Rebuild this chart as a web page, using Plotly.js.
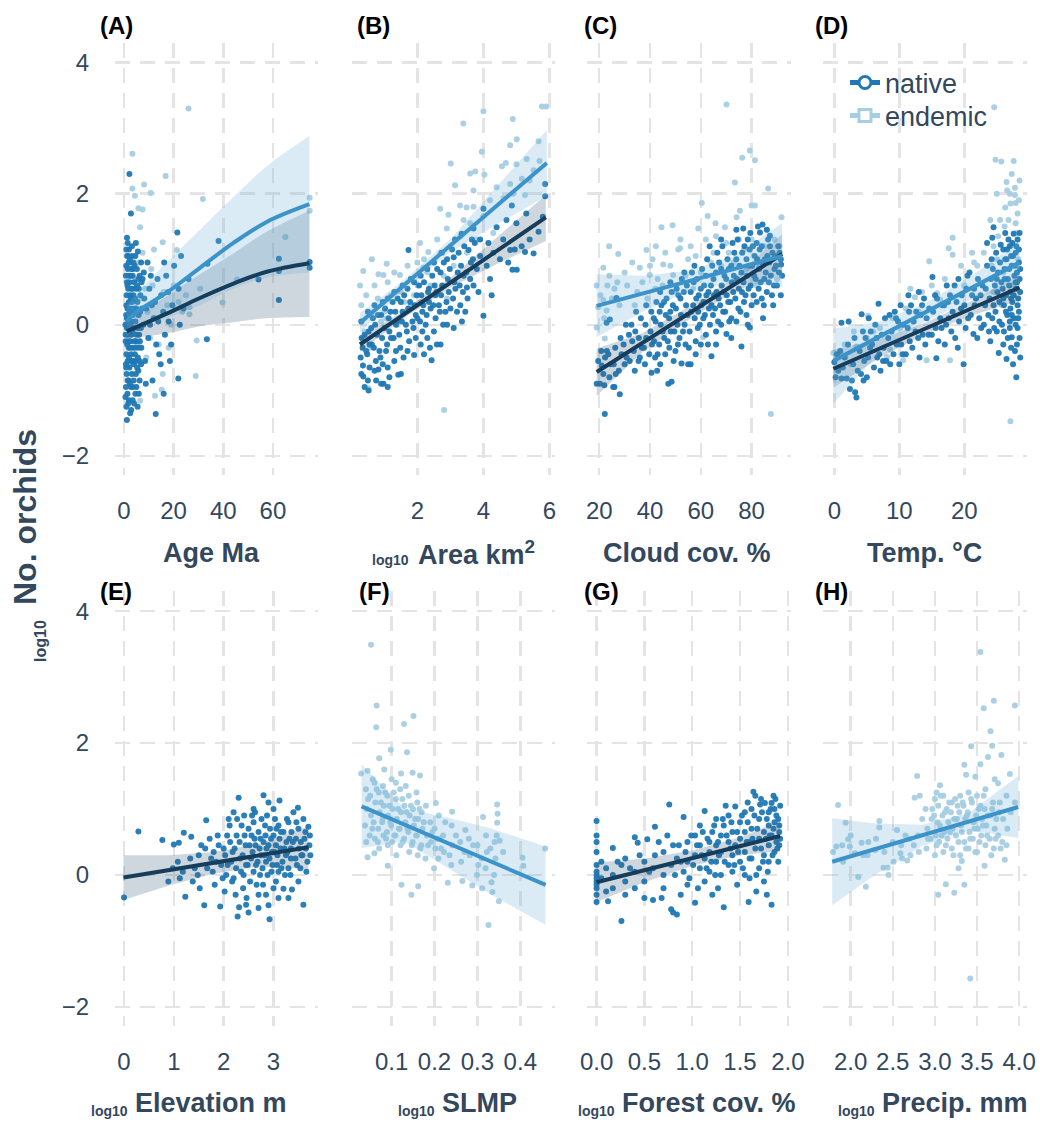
<!DOCTYPE html>
<html><head><meta charset="utf-8">
<script src="https://cdn.plot.ly/plotly-3.0.1.min.js"></script>
<style>html,body{margin:0;padding:0;background:#fff}#chart{width:1040px;height:1122px}</style>
</head><body><div id="chart"></div>
<script>
// ---------------- DATA ----------------
const panelLetters = ['(A)','(B)','(C)','(D)','(E)','(F)','(G)','(H)'];
const xTickVals = [[0,20,40,60],[2,4,6],[20,40,60,80],[0,10,20],[0,1,2,3],[0.1,0.2,0.3,0.4],[0,0.5,1,1.5,2],[2,2.5,3,3.5,4]];
const xTickText = [['0','20','40','60'],['2','4','6'],['20','40','60','80'],['0','10','20'],['0','1','2','3'],['0.1','0.2','0.3','0.4'],['0.0','0.5','1.0','1.5','2.0'],['2.0','2.5','3.0','3.5','4.0']];
const yTickVals = [-2,0,2,4];
const yTickText = ['\u22122','0','2','4'];
const xRanges = [[-3.6,78.3],[0.01,6.17],[15.3,95.4],[-1.8,29.6],[-0.18,3.9],[0.007,0.481],[-0.097,2.03],[1.667,4.09]];
const yRange = [-2.29,4.3];
const seriesNames = ['native','endemic'];

// (A) Age Ma
const A_nat = [[1.2,-1.45],[2.5,-1.35],[12.8,-1.36],[1.0,-1.25],[5.5,-1.25],[2.0,-1.15],[3.5,-1.15],[1.4,-1.05],[4.6,-1.05],[6.0,-1.05],[16.0,-1.05],[0.8,-0.95],[2.8,-0.95],[5.0,-0.95],[1.8,-0.85],[3.9,-0.85],[6.3,-0.85],[11.5,-0.85],[1.1,-0.75],[3.2,-0.75],[4.8,-0.75],[21.9,-0.82],[2.2,-0.65],[5.3,-0.65],[0.9,-0.65],[1.5,-0.55],[3.7,-0.55],[6.2,-0.55],[8.5,-0.55],[18.5,-0.55],[1.0,-0.45],[2.9,-0.45],[4.4,-0.45],[14.2,-0.45],[1.9,-0.35],[3.4,-0.35],[5.7,-0.35],[7.0,-0.35],[0.7,-0.25],[2.6,-0.25],[4.2,-0.25],[6.4,-0.25],[13.0,-0.3],[1.6,-0.15],[3.0,-0.15],[5.1,-0.15],[16.5,-0.15],[33.4,-0.22],[1.2,-0.05],[2.3,-0.05],[3.9,-0.05],[6.8,-0.05],[10.5,0.0],[1.8,0.05],[3.1,0.05],[4.6,0.05],[18.0,0.05],[22.5,0.0],[0.9,0.15],[2.6,0.15],[3.6,0.15],[5.9,0.15],[12.0,0.1],[1.4,0.25],[2.9,0.25],[4.3,0.25],[7.3,0.25],[9.0,0.25],[15.8,0.2],[2.0,0.35],[3.3,0.35],[5.4,0.35],[12.5,0.35],[19.5,0.3],[1.1,0.45],[2.5,0.45],[3.8,0.45],[6.6,0.45],[15.0,0.45],[1.7,0.55],[2.9,0.55],[4.9,0.55],[10.2,0.55],[22.0,0.55],[1.2,0.65],[2.2,0.65],[4.1,0.65],[7.1,0.65],[26.0,0.7],[0.8,0.75],[2.6,0.75],[3.5,0.75],[6.3,0.75],[13.5,0.7],[17.0,0.75],[1.5,0.85],[3.0,0.85],[5.2,0.85],[8.0,0.8],[62.4,0.82],[1.9,0.95],[3.8,0.95],[6.9,0.95],[9.5,0.95],[20.2,0.9],[33.6,0.93],[74.8,0.96],[1.3,1.05],[3.3,1.05],[23.0,1.05],[62.4,1.01],[1.0,1.15],[2.0,1.15],[5.6,1.12],[1.5,1.25],[4.8,1.25],[38.1,1.28],[1.2,1.33],[21.5,1.41],[2.2,2.3],[2.8,1.7],[54.2,0.69],[62.4,0.38],[74.8,0.87],
[0.6,-1.1],[1.7,-1.2],[2.9,-1.3],[4.1,-1.2],[0.8,-0.6],[2.4,-0.9],[3.6,-0.95],[5.8,-0.7],[1.3,-0.3],[2.0,-0.5],[4.7,-0.55],[6.9,-0.6],[0.6,0.0],[1.5,-0.85],[2.7,0.0],[4.0,-0.6],[5.5,-0.05],[7.8,0.0],[1.0,0.3],[2.2,0.2],[3.5,0.55],[4.5,0.4],[6.0,0.55],[8.2,0.4],[0.9,0.9],[2.4,1.0],[3.2,1.2],[4.3,0.9],[5.8,0.7],[7.5,0.7],[1.4,0.6],[2.8,0.4],[3.9,0.2],[5.0,0.25],[6.5,0.2],[0.7,-0.15],[1.8,-0.25],[3.0,-0.55],[4.4,-0.35],[5.6,-0.5],[1.2,0.1],[2.3,-0.35],[3.4,-0.1],[4.9,-0.25],[6.1,-0.15],[2.1,0.75],[3.6,0.85],[4.6,1.05],[1.7,1.05],[5.3,0.6],[9.8,-0.2],[11.2,0.3],[13.8,0.05],[14.8,-0.6],[10.8,0.75],[8.8,-0.9],[17.8,0.5],[19.0,-0.3],[24.0,0.25],[16.2,0.95]];
const A_end = [[26,3.3],[3.4,2.61],[16.8,2.27],[8.1,2.14],[3.4,2.08],[4.4,1.97],[10.8,2.01],[31.8,1.92],[5.8,1.78],[7.5,1.76],[6.5,1.49],[12.1,1.15],[15.6,1.26],[65,1.34],[74.8,1.94],[74.8,1.74],[45.5,0.69],[39.7,0.34],[30.7,0.55],[29.3,-0.24],[28.9,-0.78],[15.6,-0.75],[15.2,-0.99],[12.5,-1.08],[6.5,-1.16],[21.3,1.14],[26.4,0.27],[26.4,0.16],[2.5,0.9],[4.5,0.7],[6.0,0.95],[7.0,0.4],[8.5,0.55],[9.5,0.2],[10.5,-0.2],[11.5,0.6],[13,0.1],[14,-0.3],[16,0.5],[17.5,0.3],[19,0.0],[20,0.6],[22,0.35],[23.5,0.2],[9,-0.5],[5.5,-0.3],[3.0,0.2],[2,-0.6],[18,-0.35],[25,0.45],[7.5,1.1],[11,0.85]];
const A_nat_fit = {x:[1.1,17.2,30.6,44.1,57.5,74.7], y:[-0.10,0.17,0.41,0.63,0.81,0.94], up:[0.03,0.44,0.77,1.09,1.42,1.74], lo:[-0.21,-0.13,-0.02,0.04,0.10,0.12]};
const A_end_fit = {x:[1.1,4.4,17.2,30.6,44.1,57.5,74.7], y:[0.05,0.18,0.49,0.87,1.25,1.57,1.84], up:[0.3,0.45,0.95,1.45,1.95,2.42,2.88], lo:[-0.2,-0.05,0.1,0.3,0.55,0.72,0.8]};

// (B) log10 Area km2
const B_nat = [[0.3,-0.75],[0.28,-0.5],[0.31,-0.2],[0.3,0.05],[0.34,-0.35],[0.5,-0.85],[0.48,-0.45],[0.52,-0.1],[0.5,0.2],[0.55,-0.3],[0.7,-0.7],[0.68,-0.35],[0.72,0.0],[0.7,0.3],[0.74,-0.55],[0.9,-0.9],[0.88,-0.5],[0.93,-0.2],[0.9,0.15],[0.95,0.35],[1.1,-0.65],[1.08,-0.3],[1.13,0.1],[1.1,0.4],[1.15,-0.1],[1.3,-0.55],[1.28,-0.2],[1.33,0.2],[1.3,0.5],[1.35,0.0],[1.5,-0.75],[1.48,-0.35],[1.53,0.05],[1.5,0.35],[1.55,0.6],[1.7,-0.4],[1.68,-0.1],[1.72,0.25],[1.7,0.55],[1.73,1.14],[1.9,-0.46],[1.88,-0.05],[1.92,0.3],[1.9,0.65],[1.95,0.15],[2.1,-0.3],[2.08,0.05],[2.12,0.45],[2.1,0.75],[2.15,0.2],[2.3,-0.2],[2.28,0.15],[2.32,0.5],[2.3,0.85],[2.35,0.35],[2.5,-0.1],[2.48,0.3],[2.52,0.6],[2.5,0.95],[2.55,0.45],[2.7,-0.3],[2.68,0.2],[2.72,0.45],[2.7,0.8],[2.74,1.1],[2.9,0.0],[2.88,0.35],[2.92,0.7],[2.9,1.0],[3.1,-0.05],[3.08,0.4],[3.12,0.65],[3.1,1.03],[3.14,1.3],[3.3,0.3],[3.28,0.6],[3.32,0.9],[3.34,1.39],[3.5,0.57],[3.48,0.8],[3.55,1.14],[3.52,0.4],[3.7,0.6],[3.68,1.0],[3.7,1.47],[3.74,1.25],[4.0,0.14],[4.0,1.77],[4.1,0.9],[3.9,1.3],[4.4,1.49],[4.3,1.1],[4.6,1.3],[4.81,1.14],[4.86,1.82],[4.88,0.84],[5.01,0.84],[5.16,1.2],[5.26,1.11],[5.52,1.09],[5.67,1.42],[5.87,1.96],[5.87,2.15],[5.0,1.55],[4.2,0.7],[5.3,1.7],[4.5,1.0],[1.42,-0.76],[0.97,-0.9],[0.82,-0.68],[0.36,-0.79],[2.43,-0.54],[2.59,-0.30],[0.52,-1.0],
[0.35,-0.62],[0.4,-0.15],[0.45,-0.4],[0.55,-0.65],[0.6,-0.05],[0.62,-0.3],[0.65,0.1],[0.75,-0.85],[0.78,-0.15],[0.8,0.15],[0.85,-0.4],[0.95,-0.6],[1.0,-0.05],[1.02,0.25],[1.05,-0.4],[1.15,-0.8],[1.18,0.2],[1.2,-0.2],[1.25,0.35],[1.35,-0.4],[1.38,0.05],[1.4,0.4],[1.45,-0.15],[1.55,0.2],[1.58,-0.5],[1.6,0.45],[1.65,0.0],[1.75,-0.25],[1.78,0.35],[1.8,0.7],[1.85,0.05],[1.95,-0.2],[1.98,0.45],[2.0,0.1],[2.05,0.6],[2.15,-0.1],[2.18,0.3],[2.2,0.65],[2.25,0.0],[2.35,0.55],[2.38,-0.35],[2.4,0.25],[2.45,0.75],[2.55,0.1],[2.58,0.5],[2.6,0.85],[2.65,0.3],[2.75,0.6],[2.78,0.0],[2.8,0.95],[2.85,0.2],[2.95,0.5],[2.98,0.85],[3.0,0.25],[3.05,1.15],[3.15,0.55],[3.2,0.2],[3.22,0.8],[3.25,1.1],[3.38,0.5],[3.4,0.75],[3.42,1.2],[3.45,0.2],[3.6,0.7],[3.62,0.95],[3.65,1.3],[3.8,0.85],[3.85,0.5],[3.9,1.05],[4.15,1.25],[4.25,0.45],[4.7,1.6],[4.75,0.95],[5.4,1.3],[5.8,1.65],[4.95,1.15],[3.35,0.05],[2.2,-0.45],[1.1,-0.95],[0.4,-0.95]];
const B_end = [[4.0,3.26],[3.39,3.07],[4.89,3.14],[5.77,3.33],[5.9,3.33],[5.67,2.8],[5.01,2.83],[4.81,2.74],[3.95,2.64],[4.03,2.29],[3.6,2.31],[3.75,2.34],[3.01,2.46],[3.14,2.13],[2.69,1.77],[2.94,1.68],[2.89,1.47],[3.29,1.82],[3.49,1.79],[3.7,1.8],[5.31,2.53],[5.52,2.36],[5.16,2.23],[4.56,2.42],[4.68,2.47],[4.81,2.15],[5.26,1.98],[4.61,1.93],[4.0,1.66],[2.08,1.25],[0.62,1.0],[1.07,0.93],[0.82,0.77],[0.97,0.76],[0.36,0.82],[2.81,-1.3],[0.52,-0.97],[2.33,1.11],[2.18,0.87],[1.47,0.76],[0.26,0.6],[1.0,0.2],[1.5,0.5],[2.0,0.6],[2.5,0.95],[3.0,1.2],[1.2,0.45],[1.8,0.3],[0.6,0.15],[0.8,0.4],[2.3,0.8],[2.7,1.1],[3.3,1.35],[3.6,1.55],[0.4,-0.1],[1.4,0.0],[2.1,0.35],
[0.3,0.3],[0.45,0.45],[0.7,0.6],[0.9,0.05],[1.1,0.65],[1.3,0.8],[1.6,0.35],[1.7,0.9],[1.9,0.45],[2.2,1.0],[2.4,0.6],[2.6,1.3],[2.8,0.75],[3.1,0.9],[3.4,1.6],[3.5,1.1],[3.8,1.3],[4.2,1.9],[4.4,2.1],[4.9,2.0],[5.4,2.2],[5.7,2.5],[0.55,-0.35],[1.25,-0.2],[2.0,0.95],[1.05,0.1],[2.9,0.4],[3.7,2.05],[4.3,1.4],[5.0,2.45]];
const B_nat_fit = {x:[0.26,1.5,3.0,4.5,5.89], y:[-0.30,0.13,0.64,1.16,1.64], up:[-0.19,0.19,0.72,1.38,1.98], lo:[-0.41,0.07,0.57,0.95,1.28]};
const B_end_fit = {x:[0.26,1.5,3.0,4.5,5.92], y:[0.03,0.565,1.21,1.86,2.47], up:[0.18,0.645,1.31,2.16,2.97], lo:[-0.12,0.485,1.11,1.56,1.97]};

// (C) Cloud cov. %
const C_nat = [[20.3,-0.9],[19.6,-0.55],[20.8,-0.4],[22.0,-0.92],[21.6,-0.75],[22.3,-0.5],[22.9,0.03],[24.0,-0.8],[23.6,-0.45],[24.2,0.08],[26.0,-0.95],[25.7,-0.6],[26.3,-0.35],[26.8,0.41],[28.1,-1.06],[27.7,-0.7],[28.4,-0.2],[30.0,-0.6],[29.6,-0.3],[30.5,0.0],[32.0,-0.55],[31.7,-0.15],[32.7,0.0],[34.0,-0.7],[33.6,-0.4],[34.2,-0.1],[34.5,0.2],[36.0,-0.5],[35.6,-0.2],[36.4,0.1],[38.0,-0.6],[37.6,-0.35],[38.2,0.0],[38.5,0.3],[40.6,-0.73],[39.7,-0.45],[40.2,-0.1],[40.5,0.2],[42.0,-0.5],[41.6,-0.25],[42.2,0.05],[42.5,0.35],[44.0,-0.6],[43.6,-0.3],[44.2,0.0],[44.5,0.3],[46.0,-0.45],[45.6,-0.2],[46.2,0.15],[46.5,0.4],[48.5,-0.87],[47.6,-0.35],[48.2,-0.1],[48.0,0.2],[48.5,0.5],[50.0,-0.4],[49.6,-0.1],[50.2,0.25],[50.5,0.55],[52.4,-0.59],[51.6,-0.2],[52.2,0.15],[52.0,0.4],[52.5,0.7],[54.0,-0.3],[53.6,0.0],[54.2,0.3],[54.5,0.6],[56.0,-0.6],[55.6,-0.1],[56.2,0.2],[56.0,0.5],[56.5,0.8],[58.0,-0.25],[57.6,0.1],[58.2,0.4],[58.5,0.7],[60.0,-0.3],[59.6,0.0],[60.2,0.3],[60.0,0.55],[60.5,0.85],[62.0,-0.15],[61.6,0.15],[62.2,0.45],[62.0,0.75],[62.5,1.0],[64.2,-0.48],[63.6,0.0],[64.2,0.3],[64.0,0.6],[64.5,0.9],[66.0,-0.1],[65.6,0.25],[66.2,0.5],[66.0,0.8],[66.5,1.1],[68.0,0.0],[67.6,0.3],[68.2,0.6],[68.0,0.85],[68.5,1.2],[70.1,-0.14],[69.6,0.2],[70.2,0.45],[70.0,0.7],[70.5,1.0],[72.0,0.1],[71.6,0.35],[72.2,0.65],[72.0,0.9],[72.5,1.25],[74.0,0.05],[73.6,0.4],[74.2,0.7],[74.0,1.0],[74.5,1.3],[76.0,-0.33],[75.6,0.2],[76.2,0.5],[76.0,0.8],[76.3,1.1],[76.7,1.47],[78.0,0.15],[77.6,0.45],[78.2,0.75],[78.0,1.0],[78.5,1.3],[79.3,-0.04],[80.0,0.3],[79.6,0.6],[80.2,0.9],[80.5,1.2],[82.0,0.35],[81.6,0.7],[82.2,1.0],[82.0,1.25],[83.3,1.41],[84.0,0.4],[83.6,0.65],[84.2,0.95],[84.0,1.2],[84.3,1.53],[86.0,0.5],[85.6,0.8],[86.2,1.05],[86.5,1.3],[88.0,0.45],[87.6,0.75],[88.2,1.1],[87.2,1.36],[90.0,0.6],[89.6,0.9],[90.5,1.2],[92.0,0.75],[91.6,0.92],[91.5,1.0],[22.2,-1.36],[19,-0.9],[25.5,-0.95],[47.2,-0.9],[55,-0.6],
[40.8,-0.3],[41.5,0.1],[43.0,-0.45],[43.8,0.2],[45.0,-0.1],[45.5,0.35],[47.0,-0.25],[47.5,0.1],[49.0,0.3],[49.3,-0.55],[50.8,0.0],[51.2,0.45],[53.0,-0.1],[53.3,0.5],[54.8,0.15],[55.3,-0.35],[57.0,0.3],[57.2,0.65],[58.8,-0.05],[59.2,0.45],[59.0,0.2],[61.0,0.1],[61.3,0.6],[61.1,0.35],[62.8,-0.3],[63.0,0.5],[63.2,0.25],[64.8,0.15],[65.0,0.7],[65.2,0.45],[66.8,0.05],[67.0,0.4],[67.2,0.95],[68.8,0.2],[69.0,0.5],[69.3,0.75],[70.8,0.35],[71.0,0.85],[71.2,0.05],[72.8,0.5],[73.0,0.75],[73.2,1.1],[74.8,0.25],[75.0,0.55],[75.2,0.9],[76.8,0.65],[77.0,0.35],[77.2,1.2],[78.8,0.55],[79.0,0.9],[79.2,1.15],[80.8,0.45],[81.0,0.75],[81.2,1.05],[82.8,0.55],[83.0,0.85],[83.2,1.15],[84.8,0.3],[85.0,0.7],[85.2,1.0],[86.8,0.65],[87.0,0.95],[87.2,1.2],[88.8,0.6],[89.0,0.85],[89.2,1.05],[90.8,0.8],[91.0,1.1],[86.0,1.45],[82.5,1.5],[79.5,1.4],[74.0,1.45],[68.0,1.3],[63.5,1.2],[57.5,0.9],[53.5,0.8],[48.0,0.65],[44.0,0.5],[38.5,-0.2],[36.8,-0.35],[33.0,-0.25],[30.8,-0.5],[28.8,-0.45],[26.5,-0.75],[24.5,-0.6],[23.0,-0.4],[21.0,-0.62],[35.5,-0.55],[42.8,-0.7],[51.0,-0.3],[58.0,-0.45],[66.0,-0.3],[72.0,-0.2],[78.5,0.0],[84.5,0.1],[88.5,0.3],[91.5,0.45]];
const C_end = [[70.1,3.36],[76.3,2.55],[79.3,2.66],[81.3,2.51],[73.4,2.17],[86.5,2.08],[60.4,1.86],[80,1.82],[81.3,1.82],[62.7,1.66],[75.4,1.74],[74.1,1.64],[65.8,1.55],[69.5,1.49],[91.8,1.64],[44.5,1.49],[48.9,1.52],[59,1.47],[23.9,1.2],[27.5,1.08],[38.6,1.14],[42.3,1.2],[51.8,1.17],[51.1,1.15],[21.6,0.87],[19,0.6],[23.2,0.6],[27.1,0.65],[21.6,0.38],[19.6,0.27],[22.9,0.22],[19,-0.04],[22.2,-0.21],[36,0.87],[39.9,0.76],[45.2,0.92],[49.1,0.76],[87.6,-1.36],[60.9,-0.19],[55,1.0],[65,1.1],[70,1.25],[75,1.3],[85,1.2],[88,1.0],[60,0.8],[50,0.5],[45,0.6],[35,0.5],[40,0.9],[30,0.8],[25,0.4],[82,0.6],[78,0.85],[68,0.9],[57,0.55],[90,0.7],
[41,1.0],[43,0.7],[46,1.1],[48,0.9],[52,1.3],[54,0.75],[56,1.2],[58,1.05],[62,1.3],[64,0.95],[66,1.35],[71,1.1],[73,0.95],[77,1.15],[80,1.3],[83,0.9],[86,1.45],[89,1.3],[91,1.2],[20.5,0.45],[22,0.1],[24,0.75],[26,0.55],[28,0.3],[31,0.6],[33,0.95],[34,0.3],[37,0.65],[39,0.4],[42,0.55]];
const C_nat_fit = {x:[19,37,55,73,92], y:[-0.72,-0.276,0.168,0.612,1.08], up:[-0.36,-0.13,0.27,0.72,1.38], lo:[-1.08,-0.42,0.07,0.50,0.78]};
const C_end_fit = {x:[19,37,55,73,92], y:[0.29,0.477,0.665,0.852,1.05], up:[0.77,0.75,0.82,1.05,1.55], lo:[-0.19,0.2,0.51,0.65,0.58]};

// (D) Temp. °C
const D_nat = [[0,-0.57],[0.2,-0.8],[0.4,-0.45],[1.1,-0.82],[0.9,-0.4],[1.1,0.03],[1.3,-0.65],[2.4,-0.98],[1.9,-0.82],[2.1,-0.3],[2.2,0.05],[3.4,-1.11],[3.2,-1.03],[2.9,-0.6],[3.1,-0.2],[4.1,-0.75],[3.9,-0.4],[4.2,0.16],[4.4,-0.1],[5.0,-0.8],[5.2,-0.5],[4.8,-0.2],[5.3,0.1],[6.1,-0.65],[5.8,-0.3],[6.3,0.0],[7.1,-0.7],[6.9,-0.45],[7.3,-0.15],[6.8,0.32],[8.0,-0.55],[8.3,-0.2],[7.8,0.1],[9.1,-0.45],[8.8,-0.1],[9.3,0.2],[10.0,-0.6],[10.3,-0.3],[9.8,0.05],[10.2,0.3],[11.0,-0.45],[11.3,-0.05],[11.4,0.45],[12.0,-0.35],[12.2,0.05],[11.8,0.3],[13.1,-0.5],[12.9,-0.2],[13.3,0.15],[13.0,0.5],[14.0,-0.3],[14.2,0.1],[13.8,0.4],[15.7,-0.51],[15.0,-0.15],[15.2,0.2],[15.1,0.73],[16.0,-0.25],[16.3,0.1],[15.8,0.4],[17.0,-0.3],[17.2,0.0],[16.9,0.3],[17.3,0.6],[18.0,-0.1],[18.2,0.2],[17.8,0.45],[19.0,-0.35],[19.2,0.05],[18.8,0.35],[19.1,0.7],[19.9,-0.6],[20.2,-0.05],[20.0,0.3],[20.3,0.55],[21.4,-0.14],[21.0,0.15],[21.2,0.45],[20.8,0.8],[22.0,-0.2],[22.3,0.1],[21.8,0.4],[22.1,0.7],[23.0,0.0],[23.2,0.3],[22.8,0.6],[23.5,0.9],[23.5,1.25],[24.0,-0.25],[24.3,0.1],[23.9,0.4],[24.1,0.7],[24.2,1.0],[24.3,1.33],[25.3,-0.43],[25.0,-0.1],[24.8,0.2],[25.1,0.5],[25.2,0.8],[24.9,1.1],[25.6,1.22],[24.5,1.49],[26.0,-0.3],[25.8,0.0],[26.1,0.3],[25.9,0.55],[26.2,0.85],[26.0,1.15],[26.3,1.4],[26.5,-0.52],[26.6,0.15],[26.4,0.45],[26.7,0.7],[26.5,1.0],[26.8,1.3],[27.2,-0.35],[27.0,-0.05],[27.1,0.25],[26.9,0.6],[27.3,0.9],[27.0,1.2],[27.2,0.4],[27.5,-0.6],[27.3,-0.19],[27.6,0.1],[27.4,0.35],[27.7,0.75],[27.5,1.05],[27.6,1.39],[28.0,-0.8],[28.1,-0.3],[27.9,0.0],[28.2,0.3],[28.0,0.55],[28.1,0.8],[27.9,1.1],[28.2,1.3],[28.5,-0.2],[28.4,0.2],[28.6,0.5],[28.5,0.7],[28.4,0.95],
[0.6,-0.7],[1.6,-0.5],[2.7,-0.85],[3.6,-0.7],[4.6,-0.55],[5.6,-0.1],[6.6,-0.5],[7.6,-0.35],[8.6,-0.6],[9.6,-0.3],[10.6,0.0],[11.6,-0.25],[12.6,0.2],[13.6,-0.15],[14.6,0.25],[15.6,-0.05],[16.6,0.3],[17.6,0.1],[18.6,-0.2],[19.6,0.45],[20.6,0.1],[21.6,0.3],[22.6,-0.05],[23.3,0.55],[23.7,0.15],[24.4,0.85],[24.6,-0.05],[24.7,0.6],[25.4,0.35],[25.5,0.95],[25.4,0.05],[25.7,0.65],[26.1,-0.1],[26.2,0.7],[26.3,1.0],[26.0,0.4],[26.6,1.15],[26.7,-0.2],[26.9,0.85],[27.1,0.5],[27.2,1.05],[27.3,0.15],[27.4,1.25],[27.6,0.45],[27.8,0.9],[27.8,-0.4],[28.0,1.2],[28.1,0.65],[28.3,0.4],[28.3,0.1],[28.4,1.15],[28.6,0.85],[28.6,-0.5],[28.5,1.4],[24.5,0.3],[25.0,0.7],[26.4,0.2],[27.0,0.05],[27.9,0.65],[28.2,-0.05],[23.8,-0.1],[22.5,0.45],[21.5,0.55],[20.5,0.75],[19.5,0.25],[18.5,0.6],[17.5,0.35],[16.5,-0.05],[15.5,0.45],[14.5,-0.15],[13.5,0.3],[12.5,-0.1],[11.5,0.2],[10.5,-0.45],[9.5,0.1],[8.5,0.15],[7.5,-0.55],[6.5,-0.2],[5.5,-0.35],[4.5,-0.85]];
const D_end = [[24.6,3.32],[24.8,2.52],[25.7,2.49],[27.6,2.5],[26.5,2.18],[27.8,2.09],[27.8,1.98],[27.1,1.85],[26.3,1.79],[27.9,1.86],[24,1.6],[18.2,1.33],[17.6,1.17],[21.2,1.1],[18.2,1.07],[14.6,0.97],[11.7,0.55],[12.4,0.42],[15.8,0.48],[16.3,0.38],[27.1,-1.47],[-0.15,-0.43],[1.6,-0.3],[3.4,-0.33],[5.2,0.14],[8.1,-0.49],[8.6,-0.38],[10.6,-0.54],[14.2,-0.54],[17.8,-0.54],[10.1,-0.05],[25,1.0],[26,0.8],[27,1.2],[28,1.4],[24.5,0.5],[26.8,0.2],[27.5,0.6],[25.5,1.6],[28.2,1.7],[27,2.0],[24.5,1.2],[25.8,0.3],[26.2,1.5],[27.8,0.1],[28.3,1.0],[25,2.0],[20,0.6],[22,0.9],[13,0.2],[6,-0.1],[2.5,-0.6],
[26.8,1.6],[27.9,1.55],[28.4,1.9],[26.6,2.05],[25.2,1.35],[24.2,0.9],[23,1.1],[21.5,0.95],[19.5,0.9],[17,0.7],[15,0.6],[13.5,0.5],[11,0.25],[9,0.1],[7,-0.05],[5,-0.2],[3,-0.1],[1,-0.45],[28.5,2.2],[27.3,2.3]];
const D_nat_fit = {x:[-0.15,7,14,21,28.5], y:[-0.67,-0.36,-0.055,0.248,0.57], up:[-0.38,-0.22,0.03,0.36,0.77], lo:[-0.96,-0.50,-0.14,0.14,0.37]};
const D_end_fit = {x:[-0.15,7,14,21,28.5], y:[-0.55,-0.176,0.19,0.556,0.95], up:[-0.06,0.05,0.33,0.74,1.27], lo:[-1.2,-0.42,0.05,0.38,0.63]};

// (E) log10 Elevation m (native)
const E_nat = [[0,-0.34],[0.29,0.66],[0.77,0.53],[0.89,-0.1],[1.0,0.46],[0.98,0.1],[1.1,0.49],[1.08,0.2],[1.12,-0.05],[1.2,0.64],[1.23,-0.33],[1.18,0.05],[1.35,0.58],[1.33,0.25],[1.38,-0.1],[1.5,0.3],[1.48,0.0],[1.52,-0.2],[1.65,0.83],[1.63,0.4],[1.67,0.1],[1.61,-0.46],[1.8,0.35],[1.78,0.05],[1.82,-0.15],[1.85,0.2],[1.93,-0.48],[1.95,0.15],[1.9,0.45],[2.05,0.0],[2.03,0.3],[2.07,0.6],[2.02,-0.25],[2.15,0.2],[2.13,0.5],[2.17,-0.1],[2.12,0.75],[2.25,0.1],[2.22,0.4],[2.27,0.85],[2.24,-0.3],[2.3,1.17],[2.28,-0.63],[2.31,-0.49],[2.33,0.25],[2.4,0.0],[2.38,0.3],[2.42,0.6],[2.41,0.9],[2.39,-0.2],[2.5,-0.57],[2.48,0.15],[2.52,0.45],[2.5,0.7],[2.53,-0.1],[2.6,0.05],[2.58,0.35],[2.62,0.55],[2.6,0.8],[2.63,0.95],[2.7,-0.3],[2.68,0.2],[2.72,0.4],[2.7,0.65],[2.73,0.0],[2.8,1.21],[2.78,0.1],[2.82,0.3],[2.8,0.5],[2.83,0.75],[2.79,-0.15],[2.9,-0.46],[2.88,0.0],[2.92,0.25],[2.9,0.45],[2.93,0.7],[2.87,0.9],[2.92,-0.67],[3.0,-0.2],[2.98,0.15],[3.02,0.35],[3.0,0.6],[3.03,0.85],[3.1,0.05],[3.08,0.3],[3.12,0.55],[3.1,0.75],[3.12,1.13],[3.2,-0.21],[3.18,0.2],[3.22,0.4],[3.2,0.65],[3.23,0.0],[3.3,0.1],[3.28,0.35],[3.32,0.55],[3.3,0.8],[3.37,-0.22],[3.35,0.25],[3.39,0.5],[3.49,1.02],[3.47,0.15],[3.51,0.4],[3.5,0.7],[3.6,-0.45],[3.58,0.3],[3.62,0.55],[3.6,0.85],[3.7,0.73],[3.68,0.2],[3.72,0.45],
[2.0,0.4],[2.08,0.15],[2.1,0.85],[2.18,0.35],[2.2,-0.05],[2.26,0.6],[2.32,0.5],[2.35,0.05],[2.36,0.75],[2.44,0.45],[2.45,0.15],[2.46,-0.35],[2.55,0.25],[2.56,0.6],[2.57,0.9],[2.64,0.45],[2.65,0.15],[2.66,-0.15],[2.74,0.55],[2.75,0.3],[2.76,0.85],[2.84,0.6],[2.85,0.2],[2.86,0.4],[2.95,0.55],[2.96,0.05],[2.97,0.35],[3.05,0.45],[3.06,0.7],[3.07,0.15],[3.05,-0.1],[3.14,0.4],[3.15,0.65],[3.16,0.1],[3.25,0.3],[3.26,0.5],[3.27,0.85],[3.34,0.0],[3.35,0.4],[3.36,0.65],[3.44,0.25],[3.45,0.55],[3.46,0.8],[3.54,0.1],[3.55,0.5],[3.56,0.3],[3.64,0.65],[3.65,0.4],[3.66,0.05],[3.74,0.3],[3.73,0.6],[1.72,0.55],[1.75,0.25],[1.88,0.6],[1.98,-0.05],[1.55,0.45],[1.42,0.1],[2.6,1.0],[2.9,1.1],[3.4,0.95],[2.2,0.95],[3.0,1.0],[2.7,-0.5],[3.3,-0.35],[2.45,-0.45],[3.5,-0.1],[2.85,-0.3],[3.1,-0.35]];
const E_nat_fit = {x:[-0.01,0.9,1.8,2.7,3.7], y:[-0.04,0.073,0.185,0.297,0.42], up:[0.30,0.30,0.35,0.47,0.74], lo:[-0.38,-0.16,0.02,0.13,0.09]};

// (F) log10 SLMP (endemic)
const F_end = [[0.052,3.49],[0.065,2.57],[0.064,2.24],[0.151,2.41],[0.129,2.29],[0.098,1.9],[0.136,1.86],[0.071,1.77],[0.029,1.54],[0.044,1.58],[0.149,1.55],[0.166,1.51],[0.122,1.54],[0.203,1.09],[0.241,0.96],[0.272,0.68],[0.313,0.88],[0.346,1.07],[0.347,0.93],[0.346,0.79],[0.352,0.52],[0.405,0.26],[0.407,0.14],[0.458,0.4],[0.123,-0.15],[0.146,-0.30],[0.162,-0.17],[0.231,-0.12],[0.265,-0.09],[0.288,-0.16],[0.311,-0.2],[0.333,-0.11],[0.335,-0.26],[0.35,-0.4],[0.326,-0.76],[0.044,0.27],[0.06,0.33],[0.091,0.14],[0.04,1.3],[0.042,1.0],[0.038,0.75],[0.041,0.5],[0.05,1.2],[0.052,0.9],[0.049,0.6],[0.06,1.4],[0.062,1.1],[0.058,0.8],[0.061,0.55],[0.07,1.25],[0.072,0.95],[0.069,0.7],[0.071,0.4],[0.08,1.35],[0.082,1.05],[0.079,0.85],[0.081,0.6],[0.09,1.2],[0.092,0.9],[0.089,0.65],[0.091,0.45],[0.1,1.45],[0.102,1.0],[0.099,0.75],[0.101,0.5],[0.11,1.15],[0.112,0.85],[0.109,0.6],[0.111,0.3],[0.12,1.3],[0.122,0.95],[0.119,0.7],[0.121,0.45],[0.13,1.05],[0.132,0.8],[0.129,0.55],[0.14,1.2],[0.142,0.9],[0.139,0.65],[0.141,0.35],[0.15,1.0],[0.152,0.75],[0.149,0.5],[0.16,1.1],[0.162,0.85],[0.159,0.6],[0.161,0.3],[0.17,0.95],[0.172,0.7],[0.169,0.45],[0.18,1.05],[0.182,0.6],[0.179,0.25],[0.19,0.8],[0.192,0.5],[0.2,0.7],[0.202,0.4],[0.199,0.1],[0.21,0.9],[0.212,0.55],[0.209,0.25],[0.22,0.6],[0.222,0.35],[0.24,0.75],[0.242,0.45],[0.239,0.15],[0.26,0.5],[0.262,0.2],[0.28,0.55],[0.282,0.3],[0.3,0.45],[0.302,0.15],[0.299,0.0],[0.32,0.6],[0.322,0.35],[0.319,0.1],[0.34,0.5],[0.342,0.25],[0.339,0.0],[0.36,0.35],
[0.045,1.15],[0.055,0.7],[0.065,1.3],[0.068,0.5],[0.075,1.1],[0.078,0.8],[0.085,1.25],[0.087,0.55],[0.095,1.05],[0.097,0.8],[0.105,1.25],[0.106,0.6],[0.115,1.0],[0.117,0.7],[0.125,1.15],[0.126,0.5],[0.135,0.95],[0.137,0.7],[0.145,1.05],[0.147,0.45],[0.155,0.85],[0.157,0.6],[0.165,1.0],[0.167,0.4],[0.175,0.8],[0.185,0.45],[0.195,0.65],[0.205,0.55],[0.215,0.4],[0.225,0.8],[0.235,0.3],[0.25,0.6],[0.27,0.35],[0.29,0.45],[0.31,0.25],[0.33,0.4],[0.345,0.6],[0.056,1.45],[0.083,1.6],[0.11,1.4],[0.133,1.35],[0.158,1.25]];
const F_end_fit = {x:[0.03,0.13,0.23,0.33,0.459], y:[1.04,0.763,0.485,0.208,-0.15], up:[1.68,1.01,0.87,0.71,0.43], lo:[0.41,0.51,0.11,-0.29,-0.76]};

// (G) log10 Forest cov. % (native)
const G_nat = [[0,0.82],[0,0.6],[0,0.5],[0,0.35],[0,0.15],[0,0.05],[0,-0.05],[0,-0.1],[0,-0.2],[0,-0.3],[0,-0.41],[0,-0.15],[0,0.0],[0.05,-0.05],[0.05,0.2],[0.1,0.1],[0.1,-0.25],[0.17,0.41],[0.17,0.0],[0.17,-0.2],[0.26,-0.7],[0.26,0.15],[0.3,-0.1],[0.3,0.25],[0.3,-0.3],[0.4,0.57],[0.4,0.05],[0.4,-0.2],[0.43,0.49],[0.5,0.2],[0.5,-0.1],[0.5,-0.35],[0.53,0.54],[0.59,-0.38],[0.59,0.1],[0.61,0.73],[0.61,0.3],[0.7,0.0],[0.7,0.35],[0.7,-0.2],[0.76,1.07],[0.78,-0.52],[0.78,0.15],[0.8,-0.57],[0.8,0.45],[0.84,-0.6],[0.84,0.25],[0.91,0.88],[0.91,0.05],[0.95,0.5],[0.95,0.2],[0.95,-0.15],[1.03,-0.42],[1.03,0.3],[1.03,0.6],[1.08,0.1],[1.08,0.45],[1.08,0.75],[1.13,0.97],[1.13,0.25],[1.13,-0.1],[1.18,0.5],[1.18,0.05],[1.18,0.35],[1.21,-0.3],[1.21,0.65],[1.25,0.2],[1.25,0.45],[1.25,0.85],[1.3,0.0],[1.3,0.35],[1.3,0.6],[1.33,-0.49],[1.33,0.75],[1.38,0.15],[1.38,0.5],[1.38,0.9],[1.42,0.3],[1.42,0.65],[1.42,0.05],[1.45,1.04],[1.45,0.45],[1.5,0.2],[1.5,0.55],[1.5,0.8],[1.55,0.0],[1.55,0.35],[1.55,0.65],[1.55,0.95],[1.59,-0.41],[1.59,0.5],[1.62,0.25],[1.62,0.7],[1.62,1.0],[1.64,1.26],[1.66,1.2],[1.66,0.4],[1.7,0.1],[1.7,0.55],[1.7,0.85],[1.71,1.07],[1.75,0.3],[1.75,0.65],[1.76,1.09],[1.75,-0.1],[1.8,0.45],[1.8,0.75],[1.8,0.95],[1.8,0.2],[1.83,-0.45],[1.83,1.09],[1.83,0.6],[1.86,0.35],[1.86,0.8],[1.86,1.0],[1.88,0.9],[1.88,0.5],[1.91,0.65],[1.91,0.75],[1.91,0.45],
[0.82,0.0],[0.86,0.45],[0.88,0.2],[0.93,0.35],[0.97,-0.05],[0.99,0.6],[1.01,0.15],[1.05,0.45],[1.06,-0.2],[1.1,0.3],[1.11,0.65],[1.15,0.1],[1.16,0.55],[1.2,0.2],[1.23,0.75],[1.24,0.0],[1.27,0.5],[1.28,0.3],[1.32,0.85],[1.34,0.2],[1.36,0.6],[1.4,0.4],[1.41,0.8],[1.44,0.15],[1.47,0.65],[1.48,0.35],[1.52,0.9],[1.53,0.1],[1.57,0.5],[1.58,0.8],[1.6,0.25],[1.63,0.55],[1.65,0.9],[1.67,0.0],[1.68,0.7],[1.72,0.4],[1.73,0.95],[1.74,0.2],[1.77,0.55],[1.78,0.85],[1.79,0.05],[1.81,0.6],[1.82,1.0],[1.84,0.3],[1.85,0.7],[1.87,1.15],[1.89,0.4],[1.9,0.85],[1.9,0.2],[1.92,0.55],[1.92,1.05],[1.67,-0.25],[1.78,-0.3],[1.47,-0.15],[1.27,-0.2],[0.65,0.5],[0.55,0.05],[0.45,0.3],[0.35,0.1],[0.22,0.2],[0.12,-0.4],[0.68,-0.35],[0.74,0.6],[0.88,-0.3],[1.35,1.05],[1.58,1.1],[1.72,1.15],[1.85,1.2],[1.6,-0.05]];
const G_nat_fit = {x:[0,0.5,1.0,1.5,1.92], y:[-0.11,0.072,0.255,0.437,0.59], up:[0.19,0.25,0.37,0.57,0.82], lo:[-0.41,-0.11,0.14,0.30,0.36]};

// (H) log10 Precip. mm (endemic)
const H_end = [[3.54,3.38],[3.58,2.53],[3.7,2.64],[3.95,2.57],[3.66,2.18],[3.43,1.95],[3.68,1.96],[3.79,1.82],[3.63,1.79],[3.54,1.68],[3.35,1.67],[3.37,1.52],[3.48,1.49],[2.79,1.5],[3.89,1.53],[3.71,1.45],[3.75,1.39],[1.85,1.06],[1.94,0.79],[2.34,0.82],[2.34,0.72],[3.06,1.36],[3.02,1.25],[2.82,1.2],[2.76,1.17],[1.79,0.35],[1.83,0.43],[1.97,0.54],[1.99,0.43],[2.05,0.33],[2.13,0.49],[2.09,-0.03],[2.18,-0.18],[2.45,0.0],[2.44,0.11],[2.39,0.11],[3.04,-0.3],[3.13,-0.14],[3.23,-0.27],[3.35,-0.15],[3.28,0.1],[3.32,0.21],[3.42,-1.57],[3.83,0.23],[3.59,0.14],[2.29,0.38],[2.59,0.33],[2.67,0.22],[2.55,0.68],[2.9,0.4],[2.91,0.7],[2.89,1.0],[2.95,0.55],[2.96,0.85],[3.0,0.3],[3.01,0.6],[2.99,0.9],[3.0,1.15],[3.05,0.5],[3.06,0.75],[3.04,1.05],[3.1,0.35],[3.11,0.65],[3.09,0.9],[3.1,1.2],[3.15,0.55],[3.16,0.8],[3.14,1.0],[3.2,0.4],[3.21,0.7],[3.19,0.95],[3.2,1.1],[3.25,0.6],[3.26,0.85],[3.24,1.15],[3.3,0.3],[3.31,0.75],[3.29,0.95],[3.3,1.2],[3.35,0.5],[3.36,0.85],[3.34,1.05],[3.4,0.4],[3.41,0.65],[3.39,0.95],[3.4,1.25],[3.45,0.55],[3.46,0.8],[3.44,1.1],[3.5,0.35],[3.51,0.7],[3.49,0.9],[3.5,1.2],[3.55,0.6],[3.56,0.85],[3.54,1.05],[3.6,0.45],[3.61,0.75],[3.59,1.0],[3.6,1.3],[3.65,0.55],[3.66,0.9],[3.7,0.4],[3.71,0.7],[3.69,1.1],[3.75,0.6],[3.76,0.95],[3.8,0.5],[3.81,0.85],[3.85,1.2],[3.86,0.7],[3.9,0.95],[2.6,0.45],[2.61,0.25],[2.7,0.55],[2.71,0.3],[2.8,0.6],[2.81,0.35],[2.5,0.5],[2.51,0.2],[2.2,0.3],[2.21,0.5],[1.9,0.45],[1.91,0.2],
[2.92,0.55],[2.97,1.0],[3.02,0.45],[3.03,0.8],[3.07,1.2],[3.08,0.6],[3.12,0.95],[3.13,0.45],[3.17,1.1],[3.18,0.65],[3.22,0.3],[3.23,0.85],[3.27,1.05],[3.28,0.5],[3.32,0.65],[3.33,1.1],[3.37,0.4],[3.38,0.9],[3.42,0.55],[3.43,1.15],[3.47,0.7],[3.48,0.35],[3.52,1.0],[3.53,0.5],[3.57,0.75],[3.58,1.2],[3.62,0.6],[3.63,0.9],[3.67,0.3],[3.68,1.0],[3.72,0.55],[3.73,0.85],[3.77,1.1],[3.78,0.4],[2.85,0.85],[2.75,0.45],[2.65,0.6],[2.4,0.35],[2.3,0.55],[2.0,0.6],[2.15,0.3],[3.95,1.1],[3.85,0.45]];
const H_end_fit = {x:[1.78,2.3,2.85,3.4,3.99], y:[0.2,0.395,0.602,0.808,1.03], up:[0.86,0.78,0.76,0.94,1.50], lo:[-0.46,0.01,0.44,0.68,0.56]};

// ---------------- STYLE ----------------
const FONT = 'Liberation Sans, Arial, Helvetica, sans-serif';
const TXT = '#33475d';
const C_NAT_PT = '#1f78b4', C_END_PT = '#a6cee3';
const C_NAT_LN = '#173d5c', C_END_LN = '#3b93c9';
const C_NAT_BAND = 'rgba(60,95,125,0.25)', C_END_BAND = 'rgba(107,174,214,0.25)';
const GRID = '#e4e4e4';

const cols = [[0.1106,0.3061],[0.3382,0.5337],[0.5647,0.7603],[0.7910,0.9872]];
const rows = [[0.5767,0.9617],[0.0856,0.4729]];

const panels = [
  {nat:A_nat, end:A_end, natFit:A_nat_fit, endFit:A_end_fit, curve:true},
  {nat:B_nat, end:B_end, natFit:B_nat_fit, endFit:B_end_fit},
  {nat:C_nat, end:C_end, natFit:C_nat_fit, endFit:C_end_fit},
  {nat:D_nat, end:D_end, natFit:D_nat_fit, endFit:D_end_fit},
  {nat:E_nat, natFit:E_nat_fit},
  {end:F_end, endFit:F_end_fit},
  {nat:G_nat, natFit:G_nat_fit},
  {end:H_end, endFit:H_end_fit}
];

const traces = [];
const legendBase = {x:0.8125, xanchor:'left', yanchor:'middle', bgcolor:'rgba(0,0,0,0)',
  font:{family:FONT, size:27, color:TXT}, itemwidth:30};
const layout = {
  width:1040, height:1122, margin:{l:0,r:0,t:0,b:0},
  paper_bgcolor:'#fff', plot_bgcolor:'#fff', showlegend:true, hovermode:false,
  font:{family:FONT, color:TXT},
  legend:Object.assign({}, legendBase, {y:1-83/1122}),
  legend2:Object.assign({}, legendBase, {y:1-116/1122}),
  annotations:[]
};

function pts(arr){return {x:arr.map(p=>p[0]), y:arr.map(p=>p[1])};}

panels.forEach((p,i)=>{
  const r = i<4?0:1, c = i%4;
  const xs = i===0?'':String(i+1);
  const xref = 'x'+xs, yref = 'y'+xs;
  const shape = p.curve ? 'spline' : 'linear';
  layout['xaxis'+xs] = {domain:cols[c], anchor:yref, range:xRanges[i], tickmode:'array',
    tickvals:xTickVals[i], ticktext:xTickText[i], showgrid:true, gridcolor:GRID, gridwidth:2.5,
    griddash:'15px,10px', zeroline:false, showline:false, ticks:'outside', ticklen:14,
    tickcolor:'rgba(0,0,0,0)', tickfont:{family:FONT,size:24,color:TXT}, fixedrange:true};
  layout['yaxis'+xs] = {domain:rows[r], anchor:xref, range:yRange, tickmode:'array',
    tickvals:yTickVals, ticktext:yTickText, showticklabels:(c===0), showgrid:true, gridcolor:GRID,
    gridwidth:2.5, griddash:'15px,10px', zeroline:false, showline:false, ticks:'outside', ticklen:20,
    tickcolor:'rgba(0,0,0,0)', tickfont:{family:FONT,size:24,color:TXT}, fixedrange:true};
  if(p.end){ const d=pts(p.end); traces.push({type:'scatter', mode:'markers', x:d.x, y:d.y, xaxis:xref, yaxis:yref, showlegend:false, marker:{size:6, color:C_END_PT, opacity:0.95}}); }
  if(p.nat){ const d=pts(p.nat); traces.push({type:'scatter', mode:'markers', x:d.x, y:d.y, xaxis:xref, yaxis:yref, showlegend:false, marker:{size:6, color:C_NAT_PT, opacity:0.95}}); }
  const band = (f,col)=>{
    traces.push({type:'scatter', mode:'lines', x:f.x, y:f.lo, line:{width:0, shape:shape}, xaxis:xref, yaxis:yref, showlegend:false});
    traces.push({type:'scatter', mode:'lines', x:f.x, y:f.up, fill:'tonexty', fillcolor:col, line:{width:0, shape:shape}, xaxis:xref, yaxis:yref, showlegend:false});
  };
  if(p.natFit) band(p.natFit, C_NAT_BAND);
  if(p.endFit) band(p.endFit, C_END_BAND);
  if(p.natFit) traces.push({type:'scatter', mode:'lines', x:p.natFit.x, y:p.natFit.y, line:{color:C_NAT_LN, width:4, shape:shape}, xaxis:xref, yaxis:yref, showlegend:false});
  if(p.endFit) traces.push({type:'scatter', mode:'lines', x:p.endFit.x, y:p.endFit.y, line:{color:C_END_LN, width:4, shape:shape}, xaxis:xref, yaxis:yref, showlegend:false});
});

// legend entries
traces.push({type:'scatter', mode:'lines+markers', x:[null], y:[null], xaxis:'x4', yaxis:'y4', name:seriesNames[0], legend:'legend',
  line:{color:C_NAT_PT, width:5}, marker:{symbol:'circle', size:12, color:'#fff', line:{color:C_NAT_PT, width:3}}});
traces.push({type:'scatter', mode:'lines+markers', x:[null], y:[null], xaxis:'x4', yaxis:'y4', name:seriesNames[1], legend:'legend2',
  line:{color:C_END_PT, width:5}, marker:{symbol:'square', size:12, color:'#fff', line:{color:C_END_PT, width:3}}});

// panel letters
const letterX = [98,355,582,813,98,357,582,813];
panelLetters.forEach((t,i)=>{
  const yy = i<4?25:591;
  layout.annotations.push({text:'<b>'+t+'</b>', xref:'paper', yref:'paper', x:letterX[i]/1040, y:1-yy/1122,
    xanchor:'left', yanchor:'middle', showarrow:false, font:{family:FONT, size:24, color:'#000'}});
});

const titleFont = {family:FONT, size:27, color:TXT};
const subFont = {family:FONT, size:14, color:TXT};
function ann(text, xpx, ypx, xanchor, font, angle){
  layout.annotations.push({text:text, xref:'paper', yref:'paper', x:xpx/1040, y:1-ypx/1122,
    xanchor:xanchor, yanchor:'middle', showarrow:false, font:font, textangle:angle||0});
}
ann('<b>Age Ma</b>', 211.7, 553, 'center', titleFont);
ann('<b>Area km<sup>2</sup></b>', 416, 553, 'left', titleFont);
ann('<b>log10</b>', 411, 560, 'right', subFont);
ann('<b>Cloud cov. %</b>', 687, 553, 'center', titleFont);
ann('<b>Temp. °C</b>', 924, 553, 'center', titleFont);
ann('<b>Elevation m</b>', 133, 1103, 'left', titleFont);
ann('<b>log10</b>', 130, 1111, 'right', subFont);
ann('<b>SLMP</b>', 440, 1103, 'left', titleFont);
ann('<b>log10</b>', 437, 1111, 'right', subFont);
ann('<b>Forest cov. %</b>', 620, 1103, 'left', titleFont);
ann('<b>log10</b>', 617, 1111, 'right', subFont);
ann('<b>Precip. mm</b>', 880, 1103, 'left', titleFont);
ann('<b>log10</b>', 877, 1111, 'right', subFont);
ann('<b>No. orchids</b>', 25, 517, 'center', {family:FONT, size:32, color:TXT}, -90);
ann('<b>log10</b>', 40, 641, 'center', {family:FONT, size:16, color:TXT}, -90);

Plotly.newPlot('chart', traces, layout, {displayModeBar:false, staticPlot:true});
</script></body></html>
